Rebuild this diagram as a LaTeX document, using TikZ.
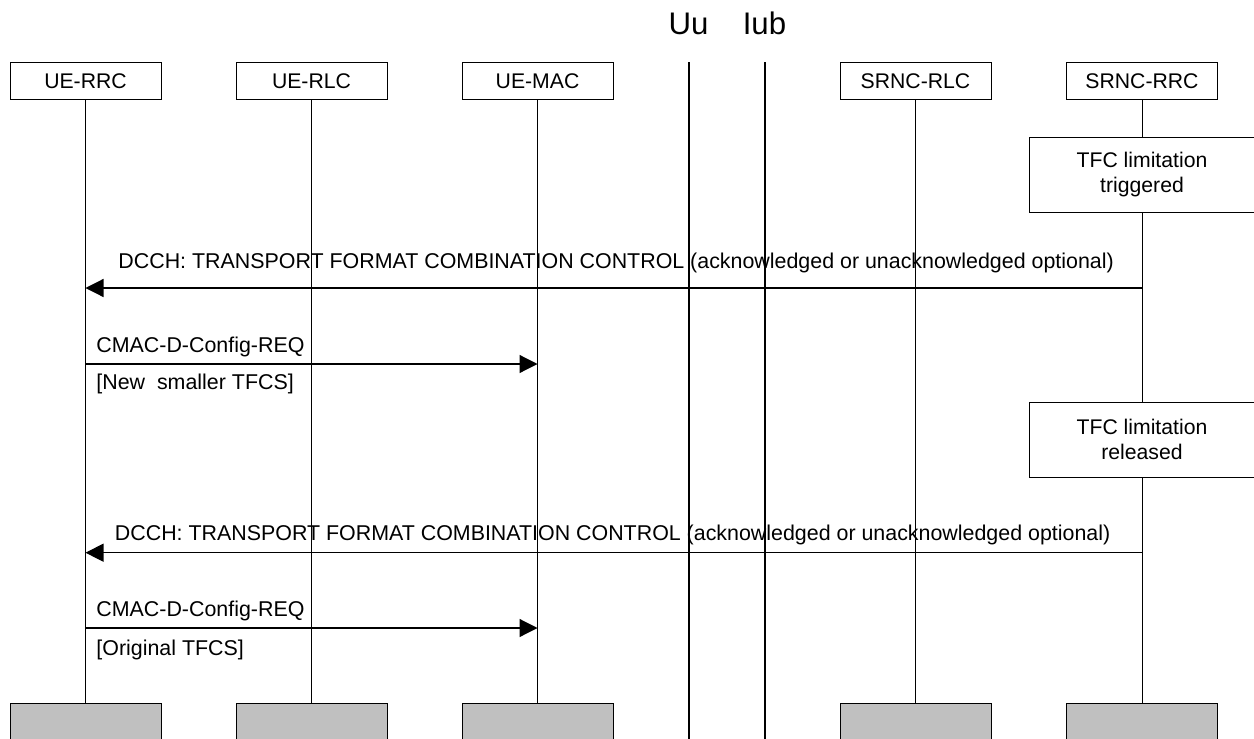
\documentclass[tikz,border=0pt]{standalone}
\usepackage{fontspec}
\setmainfont{Liberation Sans}
\usetikzlibrary{arrows.meta}
\definecolor{endgray}{RGB}{192,192,192}

\begin{document}
\begin{tikzpicture}[x=0.5pt,y=-0.5pt,
    entity/.style={draw,line width=0.5pt,minimum width=75.5pt,minimum height=18.9pt,inner sep=0pt,font=\fontsize{10.6}{12.5}\selectfont},
    endbox/.style={entity,fill=endgray},
    action/.style={draw,fill=white,line width=0.5pt,minimum width=113pt,minimum height=37.5pt,inner sep=0pt,align=center,font=\fontsize{10.6}{12.5}\selectfont},
    lifeline/.style={line width=0.5pt},
    iface/.style={line width=1pt},
    ifacelbl/.style={anchor=base,inner sep=0pt,font=\fontsize{15.6}{18}\selectfont},
    msg/.style={line width=0.6pt,-{Triangle[length=9pt,width=9pt]}},
    lbl/.style={anchor=base west,inner sep=0pt,font=\fontsize{10.7}{12.5}\selectfont}]
    \useasboundingbox (0,0) rectangle (1254,739);
    \node[entity] (uerrc) at (85.5,81) {UE-RRC};
    \node[entity] (uerlc) at (311.5,81) {UE-RLC};
    \node[entity] (uemac) at (537.5,81) {UE-MAC};
    \node[entity] (srlc) at (915.5,81) {SRNC-RLC};
    \node[entity] (srrc) at (1142,81) {SRNC-RRC};
    \node[endbox] (uerrcEnd) at (85.5,722) {};
    \node[endbox] (uerlcEnd) at (311.5,722) {};
    \node[endbox] (uemacEnd) at (537.5,722) {};
    \node[endbox] (srlcEnd) at (915.5,722) {};
    \node[endbox] (srrcEnd) at (1142,722) {};
    \draw[lifeline] (uerrc) -- (uerrcEnd);
    \draw[lifeline] (uerlc) -- (uerlcEnd);
    \draw[lifeline] (uemac) -- (uemacEnd);
    \draw[lifeline] (srlc) -- (srlcEnd);
    \draw[lifeline] (srrc) -- (srrcEnd);
    \node[ifacelbl] (uu) at (688.5,34.3) {Uu};
    \node[ifacelbl] (iub) at (764.5,34.3) {Iub};
    \coordinate (uuTop) at (689,62);
    \coordinate (uuBot) at (689,739);
    \coordinate (iubTop) at (765,62);
    \coordinate (iubBot) at (765,739);
    \draw[iface] (uuTop) -- (uuBot);
    \draw[iface] (iubTop) -- (iubBot);
    \node[action] (trig) at (1142,174.5) {TFC limitation\\triggered};
    \node[action] (rel) at (1142,439.5) {TFC limitation\\released};
    \coordinate (m1from) at (1142,288);
    \coordinate (m1to) at (85.5,288);
    \draw[msg] (m1from) -- (m1to);
    \node[lbl] (m1lbl) at (118,268) {DCCH: TRANSPORT FORMAT COMBINATION CONTROL (acknowledged or unacknowledged optional)};
    \coordinate (m2from) at (85.5,364);
    \coordinate (m2to) at (537.5,364);
    \draw[msg] (m2from) -- (m2to);
    \node[lbl] (m2lbl) at (96,352.7) {CMAC-D-Config-REQ};
    \node[lbl] (m2arg) at (96,389.5) {[New\ \ smaller TFCS]};
    \coordinate (m3from) at (1142,552.7);
    \coordinate (m3to) at (85.5,552.7);
    \draw[msg] (m3from) -- (m3to);
    \node[lbl] (m3lbl) at (114.5,540) {DCCH: TRANSPORT FORMAT COMBINATION CONTROL (acknowledged or unacknowledged optional)};
    \coordinate (m4from) at (85.5,628);
    \coordinate (m4to) at (537.5,628);
    \draw[msg] (m4from) -- (m4to);
    \node[lbl] (m4lbl) at (96,616) {CMAC-D-Config-REQ};
    \node[lbl] (m4arg) at (96,655) {[Original TFCS]};
\end{tikzpicture}
\end{document}
